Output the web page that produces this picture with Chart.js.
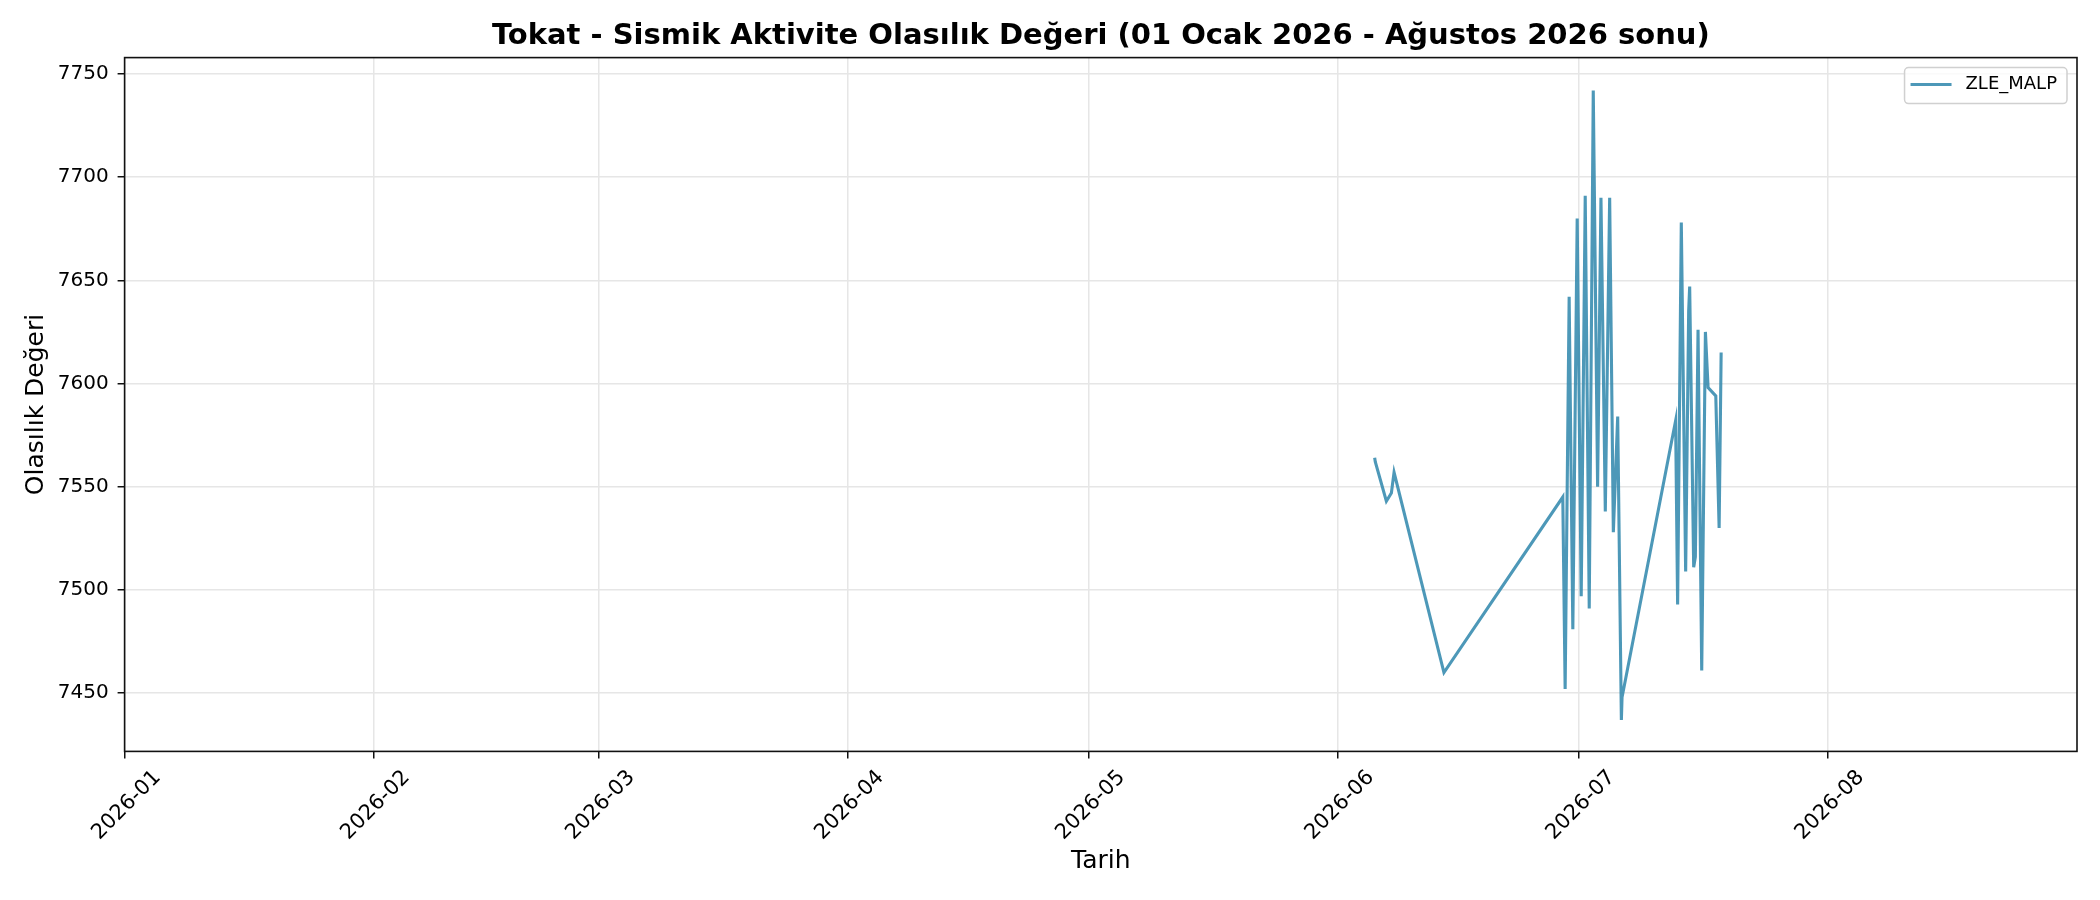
<!DOCTYPE html>
<html>
<head>
<meta charset="utf-8">
<script src="https://cdn.jsdelivr.net/npm/chart.js@4.4.1/dist/chart.umd.min.js"></script>
<style>
  html, body { margin: 0; padding: 0; background: #fff; }
  #wrap { width: 2100px; height: 900px; }
</style>
</head>
<body>
<div id="wrap"><canvas id="sismikChart" width="2100" height="900"></canvas></div>
<script>
// values
const dates = [
  '2026-06-05T14:00', '2026-06-05T16:00', '2026-06-07T01:00', '2026-06-07T16:00',
  '2026-06-08T00:00', '2026-06-14T05:00', '2026-06-29T00:00', '2026-06-29T07:00',
  '2026-06-29T19:00', '2026-06-30T06:00', '2026-06-30T19:00', '2026-07-01T07:00',
  '2026-07-01T19:00', '2026-07-02T07:00', '2026-07-02T19:00', '2026-07-03T08:00',
  '2026-07-03T18:00', '2026-07-04T07:00', '2026-07-04T20:00', '2026-07-05T07:00',
  '2026-07-05T20:00', '2026-07-06T07:00', '2026-07-06T09:00', '2026-07-13T01:00',
  '2026-07-13T07:00', '2026-07-13T18:00', '2026-07-14T07:00', '2026-07-14T16:00',
  '2026-07-14T19:00', '2026-07-15T07:00', '2026-07-15T12:00', '2026-07-15T20:00',
  '2026-07-16T07:00', '2026-07-16T18:00', '2026-07-17T02:00', '2026-07-18T01:00',
  '2026-07-18T11:00', '2026-07-18T17:00'
];
const values = [
  7564, 7562, 7543, 7547,
  7557, 7460, 7545, 7452,
  7642, 7481, 7680, 7497,
  7691, 7491, 7742, 7550,
  7690, 7538, 7690, 7528,
  7584, 7437, 7448, 7582,
  7493, 7678, 7509, 7635,
  7647, 7511, 7516, 7626,
  7461, 7625, 7598, 7594,
  7530, 7615
];
const monthTicks = ['2026-01', '2026-02', '2026-03', '2026-04', '2026-05', '2026-06', '2026-07', '2026-08'];
const yTicks = [7450, 7500, 7550, 7600, 7650, 7700, 7750];
const seriesName = 'ZLE_MALP';
const chartTitle = 'Tokat - Sismik Aktivite Olasılık Değeri (01 Ocak 2026 - Ağustos 2026 sonu)';

function toMs(s) {
  // 'YYYY-MM' or 'YYYY-MM-DDTHH:MM', read as UTC
  var y = +s.slice(0, 4), m = +s.slice(5, 7) - 1;
  var d = s.length > 7 ? +s.slice(8, 10) : 1;
  var h = s.length > 10 ? +s.slice(11, 13) : 0;
  var mi = s.length > 13 ? +s.slice(14, 16) : 0;
  return Date.UTC(y, m, d, h, mi);
}

const points = dates.map(function(d, i) { return { x: toMs(d), y: values[i] }; });
const lineColor = 'rgba(46, 134, 171, 0.85)';

Chart.defaults.font.family = "'DejaVu Sans', sans-serif";
Chart.defaults.color = '#000';

// title centred over the axes, four spines, legend box (matplotlib look)
const framePlugin = {
  id: 'frame',
  afterDatasetsDraw(chart) {
    const ca = chart.chartArea, ctx = chart.ctx;
    ctx.save();
    ctx.strokeStyle = '#111';
    ctx.lineWidth = 1.6;
    ctx.strokeRect(ca.left, ca.top, ca.right - ca.left, ca.bottom - ca.top);
    ctx.restore();
  },
  afterDraw(chart) {
    const ca = chart.chartArea, ctx = chart.ctx;
    ctx.save();
    // title
    ctx.font = "bold 29px 'DejaVu Sans'";
    ctx.fillStyle = '#000';
    ctx.textAlign = 'center';
    ctx.textBaseline = 'middle';
    ctx.fillText(chartTitle, (ca.left + ca.right) / 2, 36);

    // legend
    ctx.font = "18px 'DejaVu Sans'";
    ctx.textAlign = 'left';
    const tw = ctx.measureText(seriesName).width;
    const w = 6 + 41 + 14 + tw + 10, h = 36;
    const x = ca.right - 10 - w, y = ca.top + 10;
    ctx.fillStyle = 'rgba(255,255,255,0.8)';
    ctx.strokeStyle = '#d0d0d0';
    ctx.lineWidth = 1.5;
    ctx.beginPath();
    ctx.roundRect(x, y, w, h, 4);
    ctx.fill();
    ctx.stroke();
    ctx.strokeStyle = lineColor;
    ctx.lineWidth = 3;
    ctx.beginPath();
    ctx.moveTo(x + 6, y + 17);
    ctx.lineTo(x + 47, y + 17);
    ctx.stroke();
    ctx.fillStyle = '#000';
    ctx.fillText(seriesName, x + 61, y + 17);
    ctx.restore();
  }
};

const ctx = document.getElementById('sismikChart').getContext('2d');

const sismikChart = new Chart(ctx, {
  type: 'line',
  data: {
    datasets: [{
      label: seriesName,
      data: points,
      borderColor: lineColor,
      backgroundColor: lineColor,
      borderWidth: 3.1,
      pointRadius: 0,
      tension: 0,
      fill: false
    }]
  },
  options: {
    responsive: false,
    animation: false,
    layout: {
      padding: { left: 0, right: 23, top: 57.6, bottom: 0 }
    },
    plugins: {
      legend: { display: false },
      tooltip: { enabled: false },
      title: { display: false }
    },
    scales: {
      x: {
        type: 'linear',
        min: toMs('2026-01-01T00:00'),
        max: toMs('2026-08-31T23:59'),
        afterBuildTicks: function(scale) {
          scale.ticks = monthTicks.map(function(m) { return { value: toMs(m) }; });
        },
        afterFit: function(scale) { scale.height = 148.6; },
        ticks: {
          autoSkip: false,
          minRotation: 45,
          maxRotation: 45,
          labelOffset: 33,
          padding: 7,
          color: '#000',
          font: { size: 21 },
          callback: function(value, index) { return monthTicks[index]; }
        },
        grid: {
          color: '#e6e6e6',
          lineWidth: 1.5,
          tickColor: '#111',
          tickLength: 7,
          tickWidth: 1.5
        },
        border: { display: false },
        title: {
          display: true,
          text: 'Tarih',
          color: '#000',
          font: { size: 25 },
          padding: { top: 0, bottom: 24 }
        }
      },
      y: {
        min: 7421.8,
        max: 7757.9,
        afterBuildTicks: function(scale) {
          scale.ticks = yTicks.map(function(v) { return { value: v }; });
        },
        afterFit: function(scale) { scale.width = 124.6; },
        ticks: {
          padding: 9,
          color: '#000',
          font: { size: 20 },
          callback: function(value) { return String(value); }
        },
        grid: {
          color: '#e6e6e6',
          lineWidth: 1.5,
          tickColor: '#111',
          tickLength: 7,
          tickWidth: 1.5
        },
        border: { display: false },
        title: {
          display: true,
          text: 'Olasılık Değeri',
          color: '#000',
          font: { size: 25 },
          padding: { top: 21, bottom: 0 }
        }
      }
    }
  },
  plugins: [framePlugin]
});
</script>
</body>
</html>
